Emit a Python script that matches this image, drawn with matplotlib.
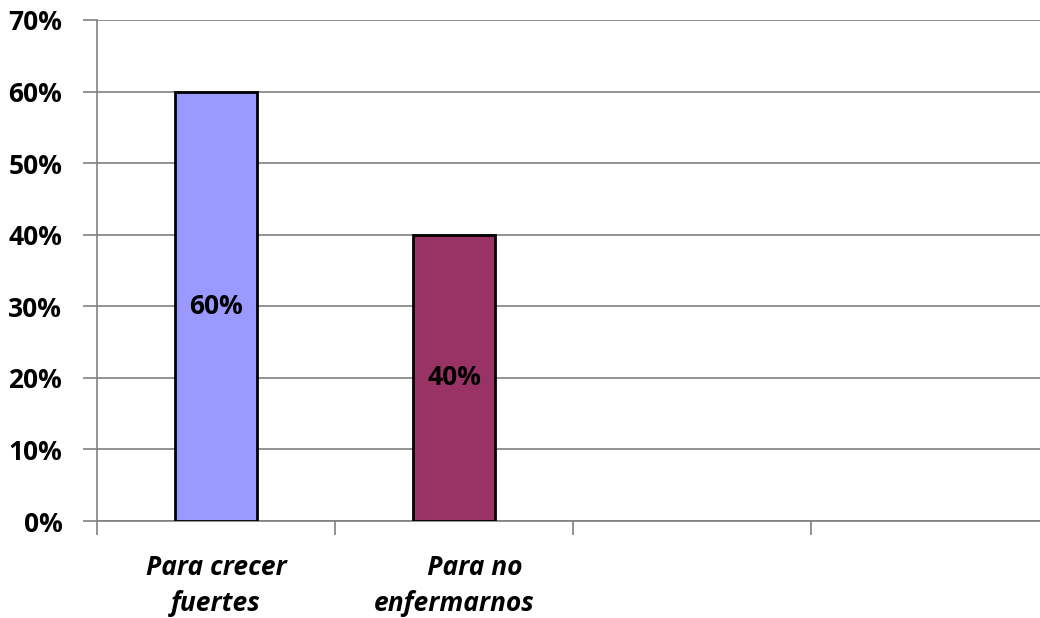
import numpy as np
import matplotlib.pyplot as plt

# data
categories = ["Para crecer\nfuertes", "      Para no\nenfermarnos", "", ""]
values = [0.60, 0.40, np.nan, np.nan]
bar_colors = ["#9999FF", "#993366", "#9999FF", "#9999FF"]
y_ticks = [0.0, 0.1, 0.2, 0.3, 0.4, 0.5, 0.6, 0.7]
y_labels = ["0%", "10%", "20%", "30%", "40%", "50%", "60%", "70%"]

plt.rcParams['font.family'] = ['Open Sans', 'DejaVu Sans']

fig = plt.figure(figsize=(10.4, 6.18), dpi=100)
W, H = 1040, 618
left, right, top, bottom = 97, 1049, 20, 521
ax = fig.add_axes([left / W, 1 - bottom / H, (right - left) / W, (bottom - top) / H])

x = np.arange(len(categories))
ax.set_xlim(-0.5, len(categories) - 0.5)
ax.set_ylim(0, 0.7)

ax.set_yticks(y_ticks)
ax.set_yticklabels(y_labels, fontsize=19, fontweight='bold')
ax.grid(axis='y', color='#808080', linewidth=1.2, zorder=0)
ax.set_axisbelow(True)

bars = ax.bar(x, values, width=0.345, color=bar_colors, edgecolor='black',
              linewidth=2, zorder=3)

for xi, v in zip(x, values):
    if np.isnan(v):
        continue
    ax.text(xi, v / 2, f"{v:.0%}", ha='center', va='center',
            fontsize=19, fontweight='bold', zorder=4)

# category labels between boundary ticks
ax.set_xticks(np.arange(len(categories) + 1) - 0.5)
ax.set_xticklabels([])
ax.set_xticks(x, minor=True)
ax.set_xticklabels(categories, minor=True, fontsize=19, fontweight='bold',
                   style='italic', linespacing=1.4)
ax.tick_params(axis='x', which='minor', length=0, pad=24)
ax.tick_params(axis='x', which='major', length=10, color='#808080', width=1.2)
ax.tick_params(axis='y', length=10, color='#808080', width=1.2, pad=15)

for s in ['top', 'right']:
    ax.spines[s].set_visible(False)
for s in ['left', 'bottom']:
    ax.spines[s].set_color('#808080')
    ax.spines[s].set_linewidth(1.2)

fig.savefig("out.png", dpi=100)
